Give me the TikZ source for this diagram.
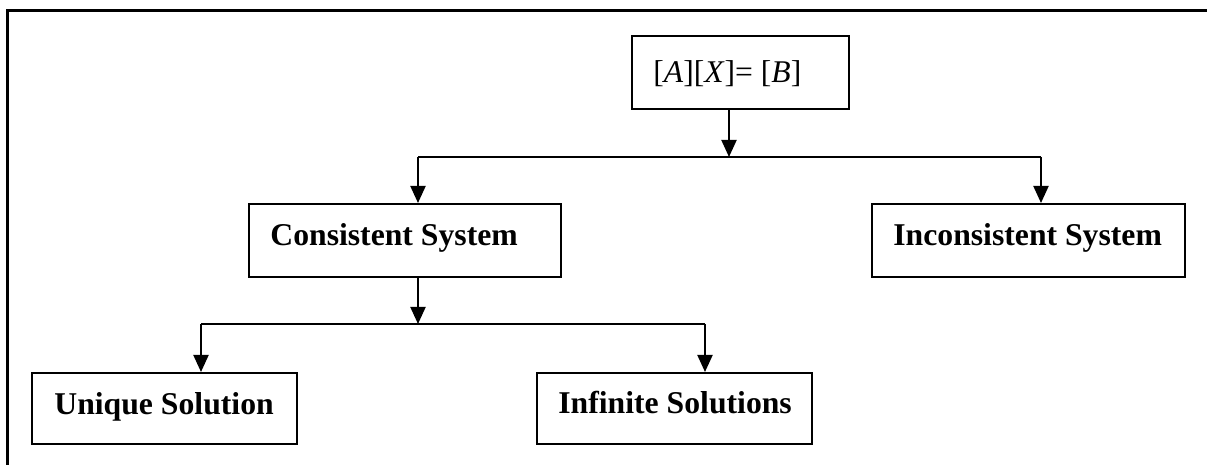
\documentclass[tikz,border=0pt]{standalone}
\usepackage{fontspec}
\setmainfont{Liberation Serif}
\usetikzlibrary{arrows.meta}
\begin{document}
\begin{tikzpicture}[x=0.5pt,y=-0.5pt,
  box/.style={draw, line width=1pt, rectangle, inner sep=0pt},
  lbl/.style={anchor=base west, inner sep=0pt, font=\fontsize{15.85}{18}\selectfont\bfseries},
  eqlbl/.style={anchor=base west, inner sep=0pt, font=\fontsize{15.8}{18}\selectfont},
  conn/.style={line width=1pt},
  arr/.style={line width=1pt, -{Triangle[length=8.5pt,width=7.5pt]}},
  frame/.style={line width=1.5pt}]
\useasboundingbox (0,0) rectangle (1207,465);
% frame
\coordinate (fTL) at (7,11);
\coordinate (fTR) at (1207,11);
\coordinate (fBL) at (7,465);
\draw[frame] (fTR) -- (fTL) -- (fBL);
% boxes
\node[box, minimum width=108.5pt, minimum height=36.5pt] (top) at (740.5,72.5) {};
\node[box, minimum width=156pt, minimum height=36.5pt] (cs) at (405,240.5) {};
\node[box, minimum width=156.5pt, minimum height=36.5pt] (ics) at (1028.5,240.5) {};
\node[box, minimum width=132.5pt, minimum height=35.5pt] (us) at (164.5,408.5) {};
\node[box, minimum width=137.5pt, minimum height=35.5pt] (is) at (674.5,408.5) {};
% texts
\node[eqlbl] (topt) at (653,83) {[\textit{A}][\textit{X}]= [\textit{B}]};
\node[lbl] (cst) at (270,246) {Consistent System};
\node[lbl] (icst) at (893,246) {Inconsistent System};
\node[lbl] (ust) at (54,415) {Unique Solution};
\node[lbl] (ist) at (558,414) {Infinite Solutions};
% junctions
\coordinate (j1) at (729,157);
\coordinate (j1L) at (418,157);
\coordinate (j1R) at (1041,157);
\coordinate (j2) at (418,324);
\coordinate (j2L) at (201,324);
\coordinate (j2R) at (705,324);
% connectors
\draw[arr] (top.south -| j1) -- (j1);
\draw[conn] (j1L) -- (j1R);
\draw[arr] (j1L) -- (j1L |- cs.north);
\draw[arr] (j1R) -- (j1R |- ics.north);
\draw[arr] (cs.south -| j2) -- (j2);
\draw[conn] (j2L) -- (j2R);
\draw[arr] (j2L) -- (j2L |- us.north);
\draw[arr] (j2R) -- (j2R |- is.north);
\end{tikzpicture}
\end{document}
